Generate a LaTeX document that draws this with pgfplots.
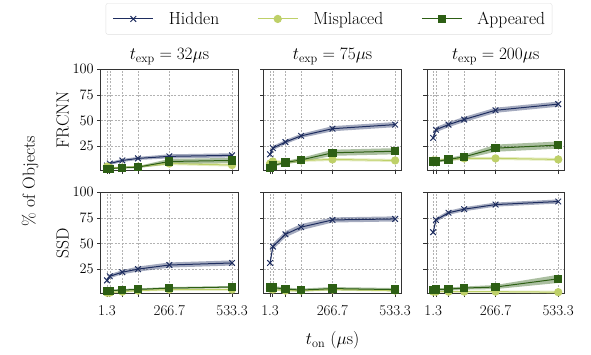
\documentclass[border=0pt]{standalone}
\usepackage{fontspec}
\usepackage{pgfplots}
\usepackage{pgfplotstable}
\pgfplotsset{compat=1.18}
\usepgfplotslibrary{groupplots,fillbetween}

\definecolor{hid}{RGB}{30,45,95}
\definecolor{mis}{RGB}{190,208,104}
\definecolor{app}{RGB}{45,95,20}

% FRCNN, t_exp = 32
\pgfplotstableread{
x h he m me a ae
1.3 6 1.2 5 1 3 0.8
13.3 8 1.5 4 1 3 0.8
66.7 11 1.5 4 1 4 1
133.3 13 1.5 5 1 4.5 1
266.7 15 2 8 1.5 10 2.5
533.3 16 2 6.5 1.5 11 2.5
}\fA
% FRCNN, t_exp = 75
\pgfplotstableread{
x h he m me a ae
1.3 17 2 8 1.5 4 1
13.3 23 2 10 1.5 6 1
66.7 29 2 9 1.5 9 1.5
133.3 35 2 11 1.5 11.5 2
266.7 42 2.5 12 1.5 18.5 3
533.3 46 2.5 11 1.5 20 3
}\fB
% FRCNN, t_exp = 200
\pgfplotstableread{
x h he m me a ae
1.3 33 2.5 11 1.5 10 1
13.3 41 2.5 11 1.5 10 1
66.7 46 2.5 12 1.5 12 1.5
133.3 51 2.5 13 1.5 14.5 2
266.7 60 2.5 13 1.5 23 3.5
533.3 66 2.5 12 1.5 26 3.5
}\fC
% SSD, t_exp = 32
\pgfplotstableread{
x h he m me a ae
1.3 14 2 2 1 3.3 1
13.3 18 2 2 1 4 1
66.7 22 2 3 1 4.6 1
133.3 25 2.5 4 1 5.2 1
266.7 29 2.5 5 1 6.5 1
533.3 31 2.5 5 1 7.5 1
}\sA
% SSD, t_exp = 75
\pgfplotstableread{
x h he m me a ae
1.3 31 2.5 6 1 7 1.5
13.3 47 3 5 1 7 1.5
66.7 59 3 4 1 5.5 1.5
133.3 66 3 4 1 4.5 1.5
266.7 73 2.5 5 1 6 1.5
533.3 74 2.5 4 1 5 1.5
}\sB
% SSD, t_exp = 200
\pgfplotstableread{
x h he m me a ae
1.3 61 2 3 1 4.5 1
13.3 73 2 3 1 5 1
66.7 80 2 3 1 5.5 1.5
133.3 83.5 2 3 1 6.5 1.5
266.7 88 2 3 1 7.5 2
533.3 91 2 2.5 1.5 15.5 4
}\sC

\newcommand{\series}[5]{%
  \addplot[name path=U#2, draw=none, forget plot] table[x=x, y expr=\thisrow{#2}+\thisrow{#3}] {#1};
  \addplot[name path=L#2, draw=none, forget plot] table[x=x, y expr=\thisrow{#2}-\thisrow{#3}] {#1};
  \addplot[fill=#4, fill opacity=0.4, draw=none, forget plot] fill between[of=U#2 and L#2];
  \addplot[color=#4, line width=1pt, #5] table[x=x, y=#2] {#1};
}
\newcommand{\panel}[1]{%
  \series{#1}{h}{he}{hid}{mark=x, mark size=4pt, mark options={solid, line width=1pt}}
  \series{#1}{m}{me}{mis}{mark=*, mark size=3.6pt, mark options={solid}}
  \series{#1}{a}{ae}{app}{mark=square*, mark size=3.6pt, mark options={solid}}
}

\begin{document}
\begin{tikzpicture}
\begin{groupplot}[
  group style={group size=3 by 2, horizontal sep=25.5pt, vertical sep=21.6pt,
    xticklabels at=edge bottom, yticklabels at=edge left},
  scale only axis, width=137.6pt, height=101.4pt,
  xmin=-25.3, xmax=560, ymin=1, ymax=100,
  xtick={1.3,13.3,66.7,133.3,266.7,533.3},
  xticklabels={1.3,,,,266.7,533.3},
  ytick={25,50,75,100},
  tick align=outside, major tick length=3.5pt,
  xtick pos=bottom, ytick pos=left,
  tick style={black!80, line width=0.8pt},
  axis line style={black!80, line width=0.8pt},
  grid=major, grid style={gray!60, line width=0.5pt, dash pattern=on 2pt off 1.5pt},
  tick label style={font=\fontsize{15}{17}\selectfont},
  xticklabel style={yshift=-5pt},
  label style={font=\fontsize{17.5}{20}\selectfont},
  title style={font=\fontsize{17.5}{20}\selectfont, at={(0.5,1)}, anchor=base, yshift=3.6pt},
  legend image code/.code={\draw[mark repeat=2, mark phase=2] plot coordinates {(0pt,0pt) (20pt,0pt) (40pt,0pt)};},
]
\nextgroupplot[title={$t_{\mathrm{exp}} = 32\mu\mathrm{s}$}, ylabel={FRCNN},
  ylabel style={at={(axis description cs:-0.276,0.5)}, anchor=center},
  legend columns=3,
  legend style={at={(1.659,1.651)}, anchor=north, draw=gray!25, rounded corners=2pt,
    font=\fontsize{17.5}{20}\selectfont, inner xsep=7pt, inner ysep=2.5pt,
    nodes={inner xsep=0pt, inner ysep=6pt},
    /tikz/every odd column/.append style={column sep=15pt},
    /tikz/every even column/.append style={column sep=38pt}},
  legend entries={Hidden, Misplaced, Appeared}]
\panel{\fA}
\nextgroupplot[title={$t_{\mathrm{exp}} = 75\mu\mathrm{s}$}]
\panel{\fB}
\nextgroupplot[title={$t_{\mathrm{exp}} = 200\mu\mathrm{s}$}]
\panel{\fC}
\nextgroupplot[ylabel={SSD},
  ylabel style={at={(axis description cs:-0.276,0.5)}, anchor=center}]
\panel{\sA}
\nextgroupplot
\panel{\sB}
\nextgroupplot
\panel{\sC}
\end{groupplot}
\path (group c1r1.north west) ++(-70.7pt,-111.7pt) node[rotate=90, font=\fontsize{17.5}{20}\selectfont] {\% of Objects};
\path (group c2r2.south) ++(0pt,-46.7pt) node[font=\fontsize{17.5}{20}\selectfont] {$t_{\mathrm{on}}$ ($\mu$s)};
\path (group c1r1.north west) ++(-100.7pt,69.3pt) rectangle ++(591pt,-354pt);
\end{tikzpicture}
\end{document}
